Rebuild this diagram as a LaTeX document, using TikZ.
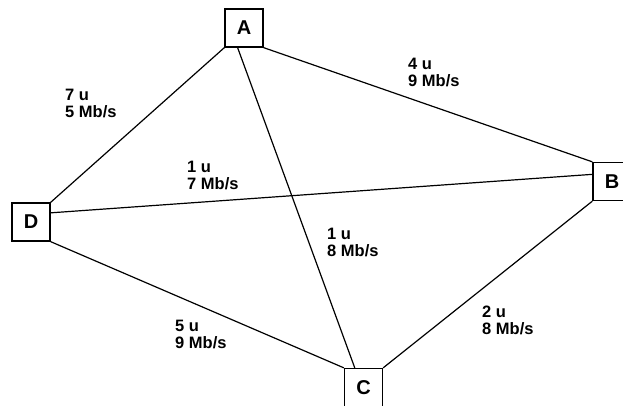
\documentclass[tikz,border=0pt]{standalone}
\usepackage{fontspec}
\setmainfont{Liberation Sans}
\begin{document}
\begin{tikzpicture}[x=1pt,y=-1pt,
  station/.style={draw, line width=1.3pt, fill=white, minimum size=38pt,
    inner sep=0pt, font=\fontsize{20}{20}\selectfont\bfseries},
  link/.style={line width=1.2pt},
  cost/.style={anchor=north west, align=left, inner sep=0pt,
    font=\fontsize{16.5}{16.5}\selectfont\bfseries}]
\useasboundingbox (0,0) rectangle (623,406);
\begin{scope}
\clip (0,0) rectangle (623,406);
% station boxes
\node[station] (A) at (244,28) {A};
\node[station] (B) at (612,181.5) {B};
\node[station] (D) at (31,222) {D};
\node[station] (C) at (363.5,387.5) {C};
% links between stations
\draw[link] (A.south west) -- (D.north east);
\draw[link] (A.south east) -- (B.north west);
\draw[link] (A.252) -- (C.114);
\draw[link] (D.25) -- (B.160);
\draw[link] (D.south east) -- (C.north west);
\draw[link] (C.north east) -- (B.south west);
\end{scope}
% link labels: cost and capacity
\node[cost] (lAD) at (65,89) {7 u\\5 Mb/s};
\node[cost] (lAB) at (408,58) {4 u\\9 Mb/s};
\node[cost] (lDB) at (187,161) {1 u\\7 Mb/s};
\node[cost] (lAC) at (327,228) {1 u\\8 Mb/s};
\node[cost] (lDC) at (175,320) {5 u\\9 Mb/s};
\node[cost] (lCB) at (482,306) {2 u\\8 Mb/s};
\end{tikzpicture}
\end{document}
